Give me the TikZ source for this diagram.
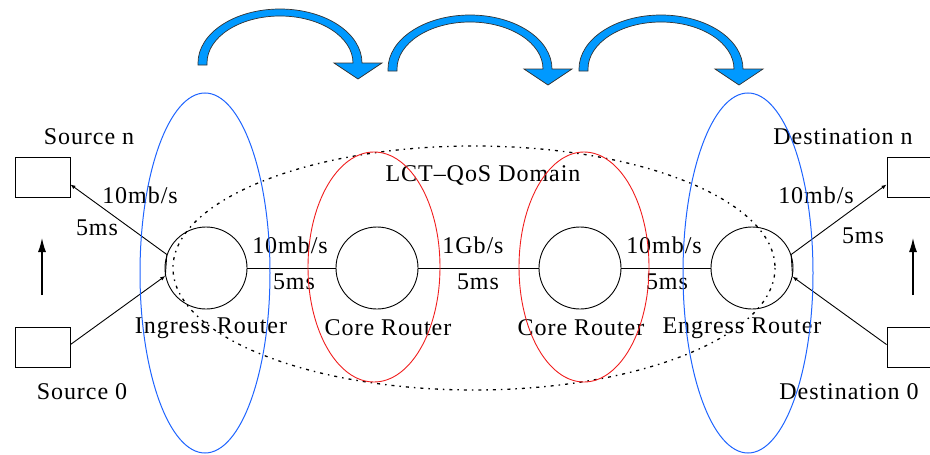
\documentclass[tikz,border=0pt]{standalone}
\usepackage{fontspec}
\setmainfont{Liberation Serif}[LetterSpace=4]
\usetikzlibrary{arrows.meta}

\definecolor{hopblue}{RGB}{0,153,255}
\definecolor{ovalblue}{RGB}{30,100,255}
\definecolor{ovalred}{RGB}{240,30,30}

\tikzset{
  router/.style={circle,draw,line width=0.9pt,minimum size=82pt,inner sep=0pt},
  host/.style={rectangle,draw,line width=0.9pt,minimum width=55pt,minimum height=40pt,inner sep=0pt},
  lbl/.style={font=\fontsize{24}{28}\selectfont,inner sep=0pt},
  link/.style={line width=0.9pt},
  tip/.style={-{Latex[length=5pt,width=4pt]}},
  updir/.style={line width=1.2pt,-{Latex[length=14pt,width=8pt]}},
  qosdomain/.style={line width=1.3pt,dash pattern={on 1.5pt off 5pt on 3pt off 5pt}},
  hop/.style={fill=hopblue,draw=black!80,line width=0.7pt},
}

\begin{document}
\begin{tikzpicture}[x=1pt,y=-1pt]
    \useasboundingbox (0,0) rectangle (930,455);
    \clip (0,0) rectangle (930,455);

    % hops over the routers
    \foreach \cx/\by in {280/63,470/69,661/69}{
        \filldraw[hop] (\cx-82,\by+2) -- (\cx-82,\by)
            arc[start angle=180,end angle=360,x radius=82,y radius=54]
            -- (\cx+102,\by) -- (\cx+78,\by+16) -- (\cx+54,\by) -- (\cx+73,\by)
            arc[start angle=0,end angle=-180,x radius=73,y radius=47]
            -- (\cx-73,\by+2) -- cycle;
    }

    % domain
    \draw[qosdomain] (474,268) ellipse[x radius=301,y radius=122];
    \node[lbl] (dom) at (483,175) {LCT–QoS Domain};

    % routers
    \node[router] (ing) at (206,268) {};
    \node[router] (core1) at (377,268) {};
    \node[router] (core2) at (580,268) {};
    \node[router] (eng) at (752,268) {};
    \node[lbl] (ingl) at (211,328) {Ingress Router};
    \node[lbl] (core1l) at (388,328) {Core Router};
    \node[lbl] (core2l) at (581,328) {Core Router};
    \node[lbl] (engl) at (742,328) {Engress Router};

    % hosts
    \node[host] (srcn) at (42.5,177) {};
    \node[host] (src0) at (42.5,347) {};
    \node[host] (dstn) at (914.5,177) {};
    \node[host] (dst0) at (914.5,347) {};
    \node[lbl] (srcnl) at (89,137) {Source n};
    \node[lbl] (src0l) at (82,392) {Source 0};
    \node[lbl] (dstnl) at (843,137) {Destination n};
    \node[lbl] (dst0l) at (849,392) {Destination 0};

    % links
    \draw[link] (ing) -- (core1);
    \draw[link] (core1) -- (core2);
    \draw[link] (core2) -- (eng);
    \draw[link,tip] (ing.161) -- (srcn.345);
    \draw[link,tip] (src0.5) -- (ing.191);
    \draw[link] (ing.161) -- (ing.191);
    \draw[link,tip] (eng.19) -- (dstn.195);
    \draw[link,tip] (dst0.175) -- (eng.348);
    \draw[link] (eng.19) -- (eng.348);

    \node[lbl] (bw1) at (140,195) {10mb/s};
    \node[lbl] (dl1) at (97,228) {5ms};
    \node[lbl] (bw2) at (290,245) {10mb/s};
    \node[lbl] (dl2) at (294,282) {5ms};
    \node[lbl] (bw3) at (473,245) {1Gb/s};
    \node[lbl] (dl3) at (478,282) {5ms};
    \node[lbl] (bw4) at (664,245) {10mb/s};
    \node[lbl] (dl4) at (667,282) {5ms};
    \node[lbl] (bw5) at (816,195) {10mb/s};
    \node[lbl] (dl5) at (863,236) {5ms};

    % host order
    \coordinate (upa) at (42,295);
    \coordinate (upb) at (42,238);
    \coordinate (upc) at (913,295);
    \coordinate (upd) at (913,238);
    \draw[updir] (upa) -- (upb);
    \draw[updir] (upc) -- (upd);

    % edge and core groups
    \draw[ovalblue,line width=1pt] (205,273) ellipse[x radius=65,y radius=180];
    \draw[ovalblue,line width=1pt] (748,273) ellipse[x radius=65,y radius=180];
    \draw[ovalred,line width=0.9pt] (374,267) ellipse[x radius=66,y radius=115];
    \draw[ovalred,line width=0.9pt] (584,267) ellipse[x radius=65,y radius=115];
\end{tikzpicture}
\end{document}
